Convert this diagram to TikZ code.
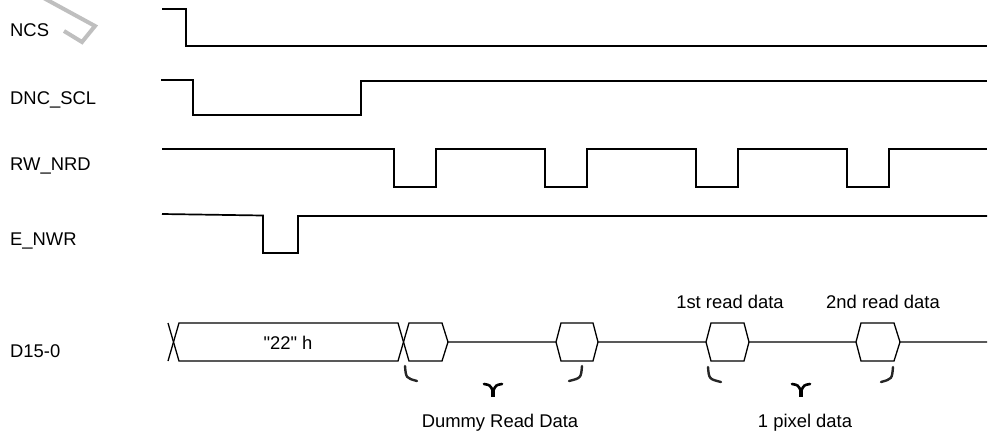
\documentclass[tikz,border=0pt]{standalone}
\usepackage{fontspec}
\setmainfont{Liberation Sans}[Ligatures=TeXOff]
\begin{document}
\begin{tikzpicture}[x=1pt,y=-1pt,
  sig/.style={line width=1.7pt,line join=miter,black},
  bus/.style={line width=1.3pt,line join=miter,black},
  lbl/.style={font=\fontsize{18.4}{20}\selectfont,inner sep=0pt,anchor=base west},
  txt/.style={font=\fontsize{18.4}{20}\selectfont,inner sep=0pt,anchor=base},
  curl/.style={line width=2.4pt,line cap=round,black!85},
  arm/.style={line width=2.6pt,line cap=round,black},
  stem/.style={line width=3.6pt,line cap=butt,black},
  wmark/.style={gray!50,line width=4pt,line join=miter}]
\useasboundingbox (0,0) rectangle (989,432);
% watermark fragment
\draw[wmark] (40,-4) -- (95,26) -- (82,42) -- (64,31);
% labels
\node[lbl] (ncs) at (10,36) {NCS};
\node[lbl] (dnc) at (10,104) {DNC\_SCL};
\node[lbl] (rw) at (10,170) {RW\_NRD};
\node[lbl] (enwr) at (10,245) {E\_NWR};
\node[lbl] (d) at (10,357) {D15-0};
% NCS
\draw[sig] (162,9) -- (186,9) -- (186,46) -- (987,46);
% DNC_SCL
\draw[sig] (161,80) -- (193,80) -- (193,115) -- (361,115) -- (361,81) -- (987,81);
% RW_NRD
\draw[sig] (162,149) -- (394,149) -- (394,187) -- (436,187) -- (436,149)
  -- (545,149) -- (545,187) -- (587,187) -- (587,149)
  -- (696,149) -- (696,187) -- (738,187) -- (738,149)
  -- (847,149) -- (847,187) -- (889,187) -- (889,149) -- (987,149);
% E_NWR
\draw[sig] (162,214) -- (263,215.5) -- (263,253) -- (298,253) -- (298,216) -- (987,216);
% D15-0 bus
\draw[bus] (168,323) -- (179,361) -- (398,361) -- (409,323) -- (442,323) -- (448,342) -- (556,342)
  -- (561,323) -- (593,323) -- (598,342) -- (706,342)
  -- (711,323) -- (744,323) -- (749,342) -- (856,342)
  -- (861,323) -- (894,323) -- (900,342) -- (987,342);
\draw[bus] (168,361) -- (179,323) -- (398,323) -- (409,361) -- (442,361) -- (448,342);
\draw[bus] (556,342) -- (561,361) -- (593,361) -- (598,342);
\draw[bus] (706,342) -- (711,361) -- (744,361) -- (749,342);
\draw[bus] (856,342) -- (861,361) -- (894,361) -- (900,342);
\node[txt] (h22) at (288,349) {"22" h};
% brace fragments: dummy read
\draw[curl] (405,366) .. controls (406,378) .. (417,381);
\draw[curl] (582,366) .. controls (581,378) .. (569,381);
\draw[arm] (484,384) .. controls (490,385) .. (493,391);
\draw[arm] (502,384) .. controls (496,385) .. (493,391);
\draw[stem] (493,388) -- (493,397);
% brace fragments: 1 pixel data
\draw[curl] (708,367) .. controls (709,379) .. (721,382);
\draw[curl] (893,367) .. controls (892,379) .. (881,382);
\draw[arm] (792,384) .. controls (798,385) .. (801,391);
\draw[arm] (810,384) .. controls (804,385) .. (801,391);
\draw[stem] (801,388) -- (801,397);
% texts
\node[txt] (rd1) at (730,308) {1st read data};
\node[txt] (rd2) at (883,308) {2nd read data};
\node[txt] (dummy) at (500,427) {Dummy Read Data};
\node[txt] (pix) at (805,427) {1 pixel data};
\end{tikzpicture}
\end{document}
